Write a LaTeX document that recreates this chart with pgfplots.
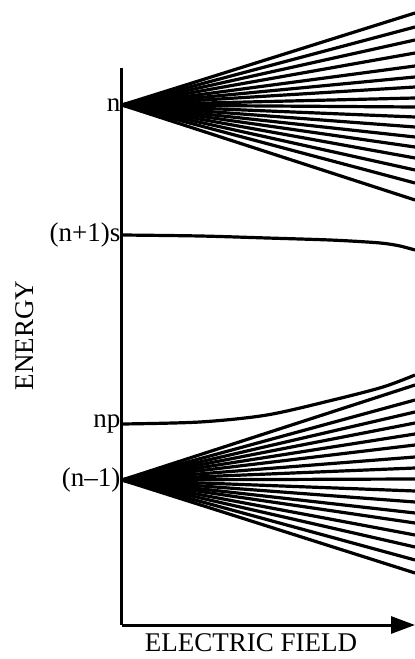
\documentclass[border=0pt]{standalone}
\usepackage{fontspec}
\setmainfont{Liberation Serif}
\usepackage{pgfplots}
\pgfplotsset{compat=1.18}
\usetikzlibrary{arrows.meta}
\begin{document}
\begin{tikzpicture}
\begin{axis}[
  at={(0,0)}, anchor=south west,
  scale only axis, width=293pt, height=557pt,
  xmin=122, xmax=415, ymin=-625, ymax=-68,
  axis x line=bottom, axis y line=left,
  x axis line style={line width=3pt, -{Triangle[length=24pt,width=17pt]}},
  y axis line style={line width=3pt, -},
  xtick=\empty,
  ytick={-480,-424,-235,-105},
  yticklabels={(n--1), np, (n+1)s, n},
  major tick length=0pt,
  yticklabel style={font=\fontsize{27}{31}\selectfont, inner sep=1.5pt, anchor=east},
  xlabel={ELECTRIC FIELD},
  ylabel={ENERGY},
  label style={font=\fontsize{27}{31}\selectfont},
  xlabel style={at={(axis description cs:0.44,-0.047)}, anchor=base, inner sep=0pt},
  ylabel style={at={(axis description cs:-0.331,0.52)}, anchor=center},
  clip=false,
  every axis plot post/.append style={black, solid, line width=3.2pt, line cap=butt, mark=none},
]
% upper manifold n
\addplot coordinates {(122,-105) (415,-13)};
\addplot coordinates {(122,-105) (415,-27)};
\addplot coordinates {(122,-105) (415,-40)};
\addplot coordinates {(122,-105) (415,-53)};
\addplot coordinates {(122,-105) (415,-66)};
\addplot coordinates {(122,-105) (415,-77)};
\addplot coordinates {(122,-105) (415,-87)};
\addplot coordinates {(122,-105) (415,-98)};
\addplot coordinates {(122,-105) (415,-107)};
\addplot coordinates {(122,-105) (415,-117)};
\addplot coordinates {(122,-105) (415,-127)};
\addplot coordinates {(122,-105) (415,-137)};
\addplot coordinates {(122,-105) (415,-147)};
\addplot coordinates {(122,-105) (415,-158)};
\addplot coordinates {(122,-105) (415,-170)};
\addplot coordinates {(122,-105) (415,-183)};
\addplot coordinates {(122,-105) (415,-200)};
% (n+1)s
\addplot+[smooth, line width=2.8pt] coordinates {(122,-235) (200,-236) (267,-238) (330,-240) (367,-242) (385,-243.5) (400,-246) (415,-250)};
% np
\addplot+[smooth, line width=2.8pt] coordinates {(122,-424) (200,-422) (267,-415) (333,-400) (383,-387) (415,-375)};
% lower manifold n-1
\addplot coordinates {(122,-480) (415,-385)};
\addplot coordinates {(122,-480) (415,-400)};
\addplot coordinates {(122,-480) (415,-412)};
\addplot coordinates {(122,-480) (415,-423)};
\addplot coordinates {(122,-480) (415,-434)};
\addplot coordinates {(122,-480) (415,-445)};
\addplot coordinates {(122,-480) (415,-457)};
\addplot coordinates {(122,-480) (415,-468)};
\addplot coordinates {(122,-480) (415,-479)};
\addplot coordinates {(122,-480) (415,-491)};
\addplot coordinates {(122,-480) (415,-502)};
\addplot coordinates {(122,-480) (415,-513)};
\addplot coordinates {(122,-480) (415,-523)};
\addplot coordinates {(122,-480) (415,-535)};
\addplot coordinates {(122,-480) (415,-547)};
\addplot coordinates {(122,-480) (415,-560)};
\addplot coordinates {(122,-480) (415,-573)};
\end{axis}
\pgfresetboundingbox
\path[use as bounding box] (-122pt,-34pt) rectangle (293pt,625pt);
\end{tikzpicture}
\end{document}
